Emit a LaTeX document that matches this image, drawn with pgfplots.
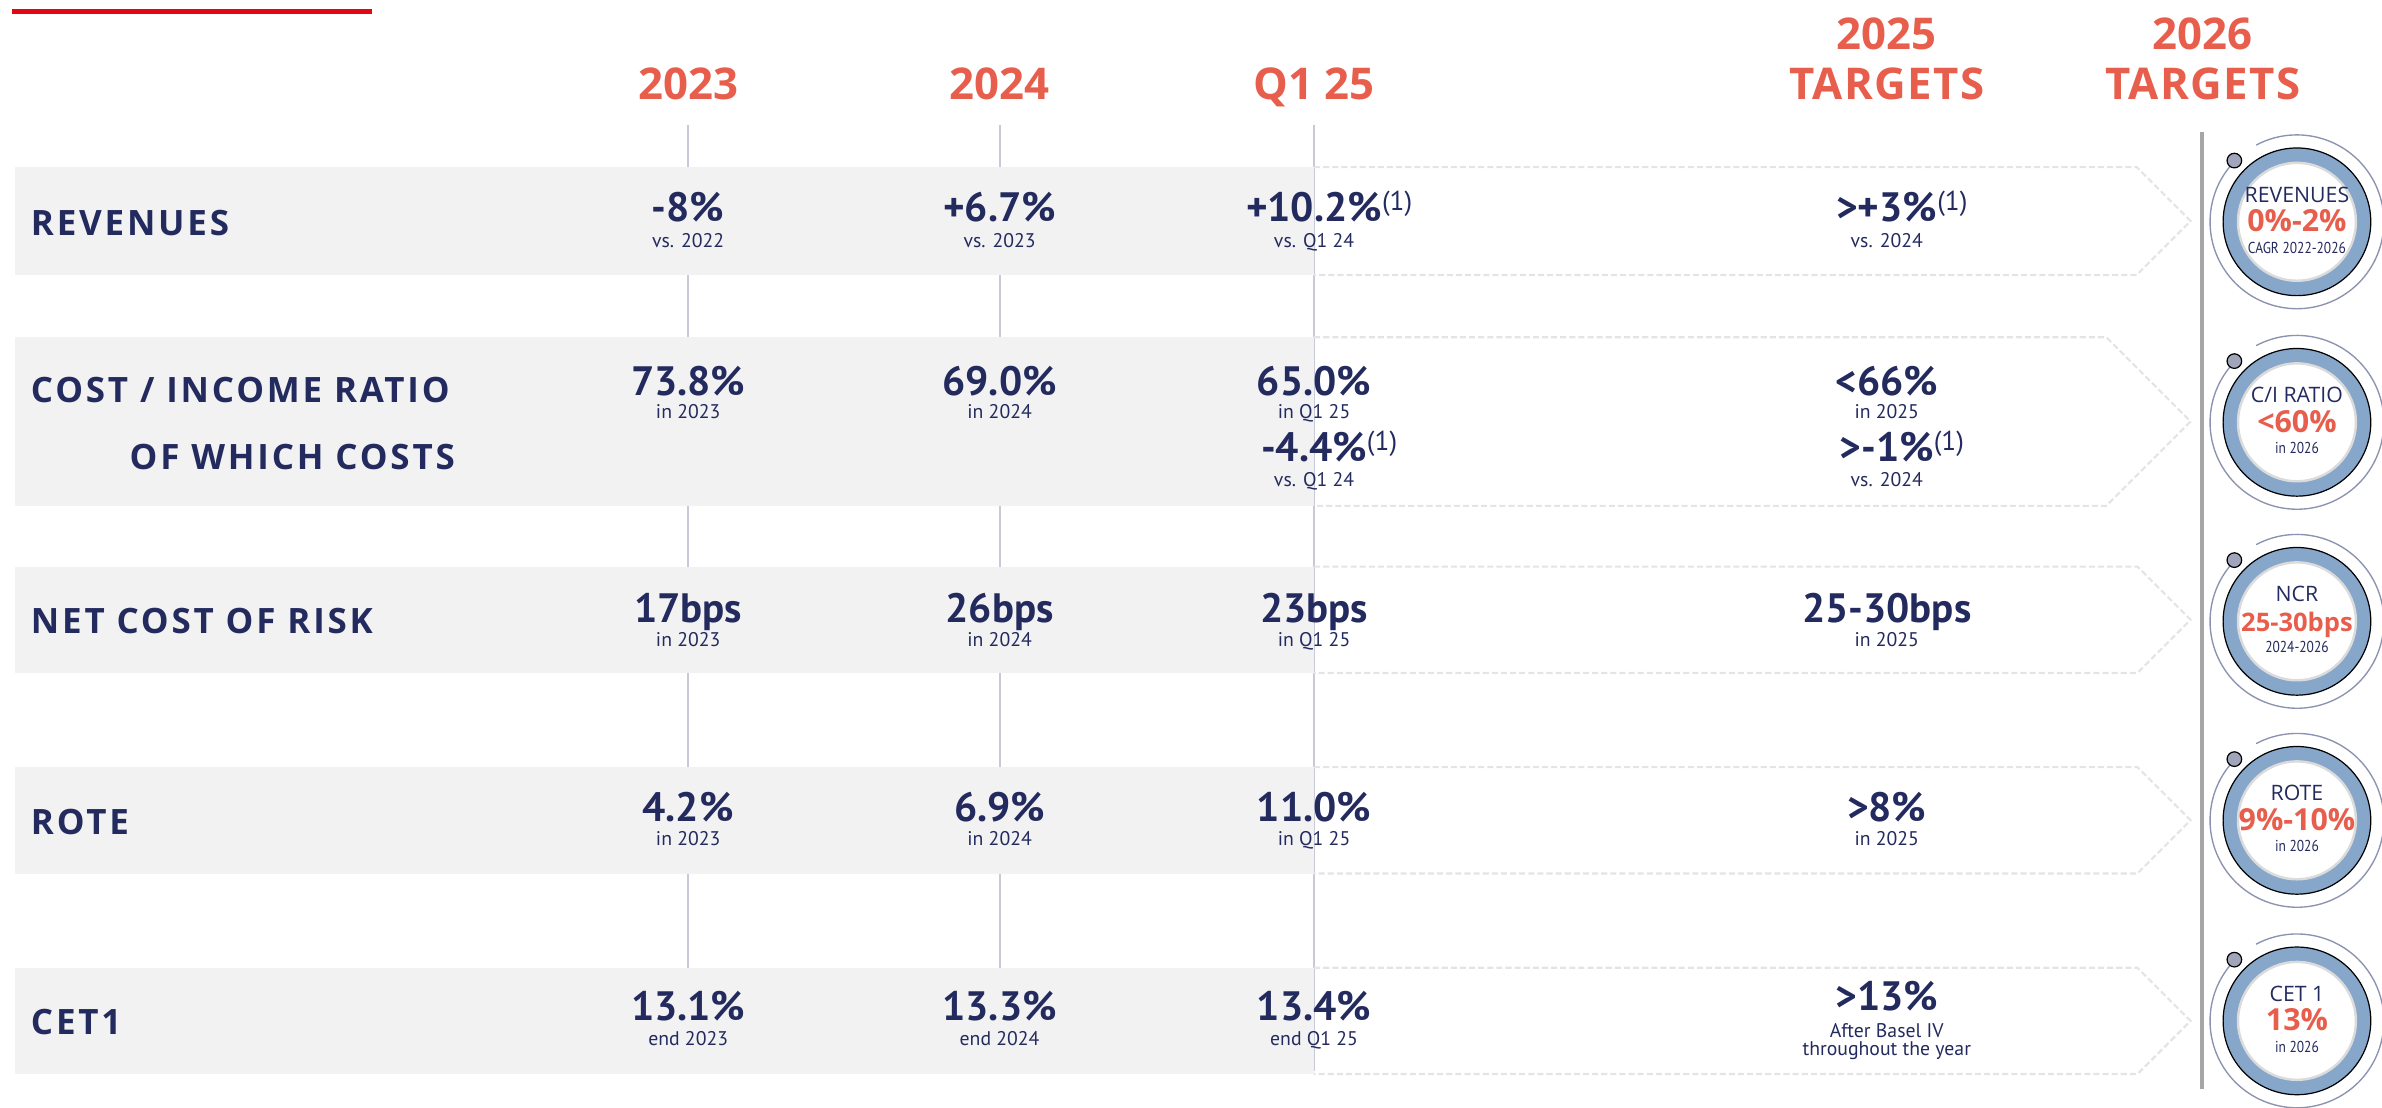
\documentclass[border=0pt]{standalone}
\usepackage{fontspec}
\usepackage{pgfplots}
\pgfplotsset{compat=1.18}
\setmainfont{PT Sans}
\newfontfamily\osfont{Open Sans}
\newfontfamily\tgfont[LetterSpace=3]{Open Sans}
\newfontfamily\lblfont[LetterSpace=8]{Open Sans}
\newfontfamily\condfont[FakeStretch=0.85]{PT Sans}

\definecolor{navy}{RGB}{35,42,94}
\definecolor{hdred}{RGB}{232,94,76}
\definecolor{barred}{RGB}{227,6,19}
\definecolor{band}{RGB}{242,242,242}
\definecolor{vline}{RGB}{200,202,216}
\definecolor{dashc}{RGB}{228,228,228}
\definecolor{ring}{RGB}{134,166,202}
\definecolor{dotc}{RGB}{160,165,186}
\definecolor{arcc}{RGB}{140,146,176}
\definecolor{sep}{RGB}{166,166,166}

% superscript footnote mark, kept out of the centring
\DeclareRobustCommand\sone{\rlap{\raisebox{3.6pt}{\fontsize{9}{9}\selectfont\mdseries(1)}}}

\pgfplotsset{
  txt/.style={draw=none, mark=none, nodes near coords, point meta=explicit symbolic,
    nodes near coords align={#1}},
  txt/.default={anchor=base},
  dashrow/.style={dashc, line width=0.7pt, dash pattern=on 2pt off 1pt},
}

\begin{document}
\begin{tikzpicture}
\begin{axis}[
  scale only axis, width=784pt, height=364.5pt,
  xmin=0, xmax=1568, ymin=0, ymax=729, y dir=reverse,
  hide axis, clip=false,
]
\coordinate (bl) at (rel axis cs:0,0);
\coordinate (tr) at (rel axis cs:1,1);

% red bar top left
\addplot[fill=barred, draw=none] coordinates {(8,6) (245,6) (245,9.5) (8,9.5)};

% column guide lines
\addplot[vline, line width=0.7pt] coordinates {(453,82) (453,705)};
\addplot[vline, line width=0.7pt] coordinates {(658,82) (658,705)};
\addplot[vline, line width=0.7pt] coordinates {(865,82) (865,705)};

% grey bands
\addplot[fill=band, draw=none] coordinates {(10,110) (865,110) (865,181) (10,181)};
\addplot[fill=band, draw=none] coordinates {(10,222) (865,222) (865,333) (10,333)};
\addplot[fill=band, draw=none] coordinates {(10,373) (865,373) (865,443) (10,443)};
\addplot[fill=band, draw=none] coordinates {(10,505) (865,505) (865,575) (10,575)};
\addplot[fill=band, draw=none] coordinates {(10,637) (865,637) (865,707) (10,707)};

% dashed target arrows
\addplot[dashrow] coordinates {(865,110) (1406.5,110) (1442,145.5) (1406.5,181) (865,181)};
\addplot[dashrow] coordinates {(865,222) (1386.5,222) (1442,277.5) (1386.5,333) (865,333)};
\addplot[dashrow] coordinates {(865,373) (1407,373) (1442,408) (1407,443) (865,443)};
\addplot[dashrow] coordinates {(865,505) (1407,505) (1442,540) (1407,575) (865,575)};
\addplot[dashrow] coordinates {(865,637) (1407,637) (1442,672) (1407,707) (865,707)};

% separator
\addplot[sep, line width=1pt] coordinates {(1449.5,87) (1449.5,717)};

% column headers
\addplot[txt, every node near coord/.append style={font=\osfont\bfseries\fontsize{14.4}{16}\selectfont, text=hdred, inner sep=0pt}] coordinates {
  (453,65.5) [2023] (658,65.5) [2024] (865,65.5) [Q1 25]
  (1242,32.5) [2025] (1242,65.5) [{\tgfont TARGETS}]
  (1450,32.5) [2026] (1450,65.5) [{\tgfont TARGETS}]
};

% row labels
\addplot[txt={anchor=base west}, every node near coord/.append style={font=\lblfont\bfseries\fontsize{11.5}{13}\selectfont, text=navy, inner sep=0pt}] coordinates {
  (20,155) [REVENUES]
  (20,265) [COST / INCOME RATIO]
  (85,309) [OF WHICH COSTS]
  (20,417) [NET COST OF RISK]
  (20,549) [ROTE]
  (20,681) [CET1]
};

% main figures
\addplot[txt, every node near coord/.append style={font=\bfseries\fontsize{13.5}{15}\selectfont, text=navy, inner sep=0pt, text depth=0pt}] coordinates {
  (453,146) [-8\%] (658,146) [+6.7\%] (865,146) [+10.2\%\sone] (1242,146) [>+3\%\sone]
  (453,260.5) [73.8\%] (658,260.5) [69.0\%] (865,260.5) [65.0\%] (1242,260.5) [<66\%]
  (865,303.5) [-4.4\%\sone] (1242,303.5) [>-1\%\sone]
  (453,410) [17bps] (658,410) [26bps] (865,410) [23bps] (1242,410) [25-30bps]
  (453,541) [4.2\%] (658,541) [6.9\%] (865,541) [11.0\%] (1242,541) [>8\%]
  (453,672) [13.1\%] (658,672) [13.3\%] (865,672) [13.4\%] (1242,665.4) [>13\%]
};

% small captions
\addplot[txt, every node near coord/.append style={font=\fontsize{6.5}{7}\selectfont, text=navy, inner sep=0pt}] coordinates {
  (453,162.6) [vs. 2022] (658,162.6) [vs. 2023] (865,162.6) [vs. Q1 24] (1242,162.6) [vs. 2024]
  (453,275.5) [in 2023] (658,275.5) [in 2024] (865,275.5) [in Q1 25] (1242,275.5) [in 2025]
  (865,320.5) [vs. Q1 24] (1242,320.5) [vs. 2024]
  (453,425.5) [in 2023] (658,425.5) [in 2024] (865,425.5) [in Q1 25] (1242,425.5) [in 2025]
  (453,556.5) [in 2023] (658,556.5) [in 2024] (865,556.5) [in Q1 25] (1242,556.5) [in 2025]
  (453,688.5) [end 2023] (658,688.5) [end 2024] (865,688.5) [end Q1 25]
  (1242,682.8) [After Basel IV] (1242,694.5) [throughout the year]
};

% 2026 target rings
\pgfplotsinvokeforeach{146,278,409,540,672}{
  \draw[arcc, line width=0.45pt] (axis cs:1512,#1) ++(118:28.6pt) arc[start angle=118, end angle=-224, radius=28.6pt];
}
\addplot[only marks, mark=*, mark size=24.3pt, mark options={fill=ring, draw=none}] coordinates {
  (1512,146) (1512,278) (1512,409) (1512,540) (1512,672)};
\addplot[only marks, mark=*, mark size=19.4pt, mark options={fill=white, draw=black!14, line width=0.8pt}] coordinates {
  (1512,146) (1512,278) (1512,409) (1512,540) (1512,672)};
\addplot[only marks, mark=*, mark size=2.4pt, mark options={fill=dotc, draw=none}] coordinates {
  (1470.8,105.7) (1470.8,237.7) (1470.8,368.7) (1470.8,499.7) (1470.8,631.7)};

\addplot[txt, every node near coord/.append style={font=\osfont\fontsize{7}{8}\selectfont, text=navy, inner sep=0pt}] coordinates {
  (1512,133.4) [REVENUES] (1512,265) [C/I RATIO] (1512,396) [NCR] (1512,527) [ROTE] (1512,659) [CET 1]
};
\addplot[txt, every node near coord/.append style={font=\osfont\bfseries\fontsize{10}{11}\selectfont, text=hdred, inner sep=0pt, text depth=0pt}] coordinates {
  (1512,152.5) [0\%-2\%] (1512,284.5) [<60\%] (1512,415.5) [{\fontsize{8.4}{9}\selectfont 25-30bps}] (1512,546.5) [9\%-10\%] (1512,678.5) [13\%]
};
\addplot[txt, every node near coord/.append style={font=\condfont\fontsize{5.2}{6}\selectfont, text=navy, inner sep=0pt}] coordinates {
  (1512,166.6) [CAGR 2022-2026] (1512,298.6) [in 2026] (1512,429.6) [2024-2026] (1512,560.6) [in 2026] (1512,692.6) [in 2026]
};
\end{axis}
\pgfresetboundingbox
\path[use as bounding box] (bl) rectangle (tr);
\end{tikzpicture}
\end{document}
